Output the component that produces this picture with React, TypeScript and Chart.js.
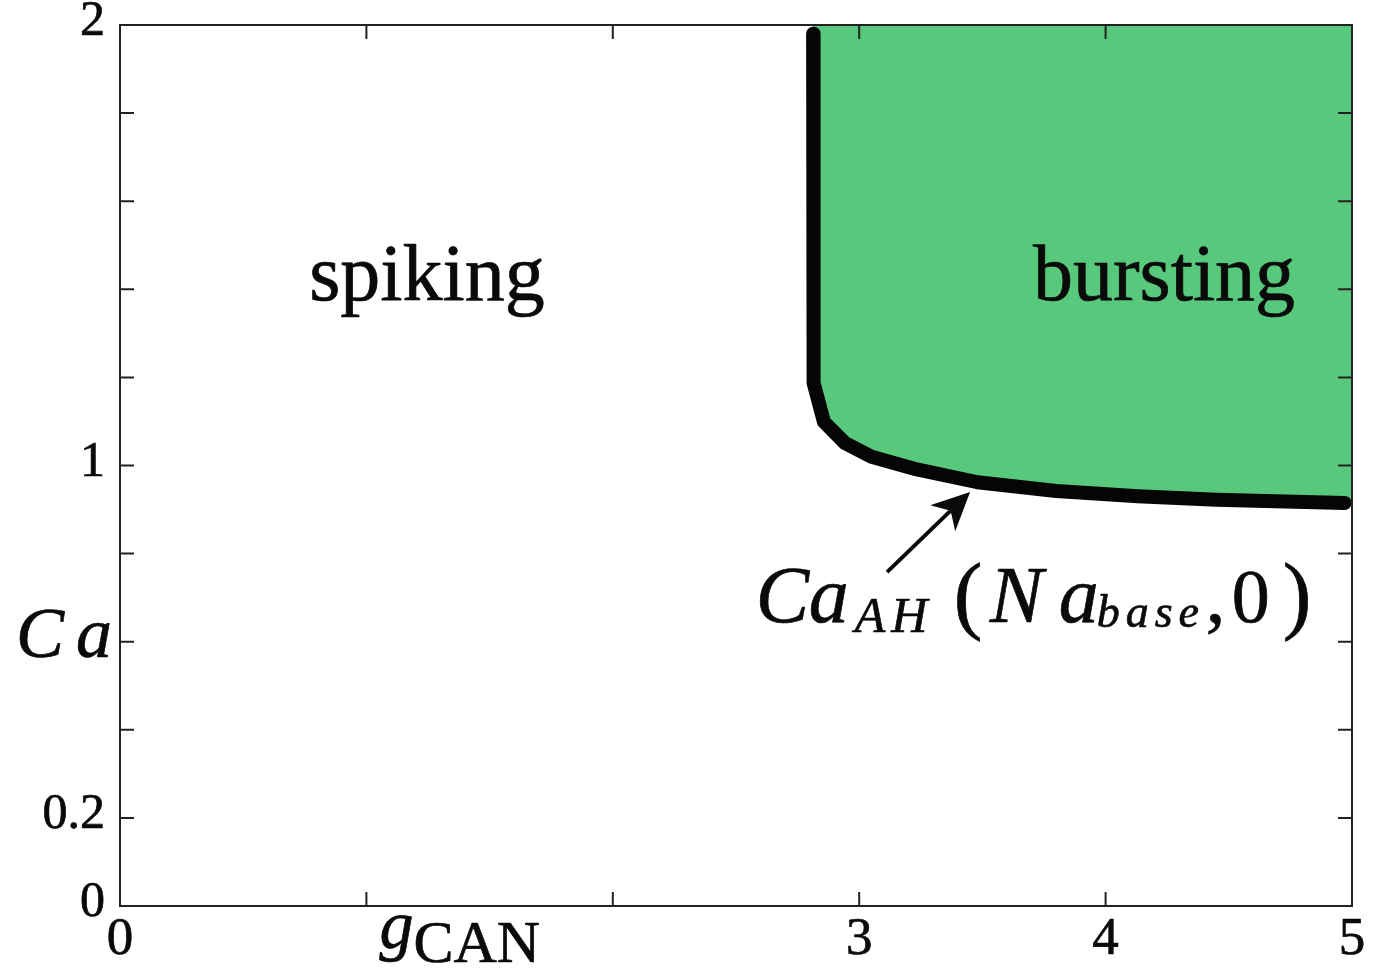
import { useEffect, useRef } from 'react';
import { Chart, registerables } from 'chart.js';

Chart.register(...registerables);

// Axis ticks and their printed labels (blank = tick mark only)
const xTicks = [0, 1, 2, 3, 4, 5];
const xTickLabels = ['0', '', '', '3', '4', '5'];
const yTicks = [0, 0.2, 0.4, 0.6, 0.8, 1, 1.2, 1.4, 1.6, 1.8, 2];
const yTickLabels = ['0', '0.2', '', '', '', '1', '', '', '', '', '2'];

// Axis names, placed at the x = 1 and y = 0.6 tick positions
const xAxisName = { main: 'g', sub: 'CAN', at: 1 };
const yAxisName = { text: 'Ca', at: 0.6 };

// Boundary Ca_AH(Na_base, 0) between spiking and bursting, vs g_CAN
const gCan = [2.813, 2.815, 2.857, 2.942, 3.05, 3.22, 3.48, 3.8, 4.13, 4.45, 4.97];
const caAH = [1.98, 1.187, 1.099, 1.051, 1.02, 0.993, 0.962, 0.942, 0.93, 0.922, 0.915];
const xMax = 5;

// Region names and the curve annotation
const regions = [
  { text: 'spiking', x: 1.246, y: 1.376 },
  { text: 'bursting', x: 4.237, y: 1.376 },
];
const arrowTail = { x: 3.113, y: 0.758 };
const arrowTip = { x: 3.45, y: 0.94 };
const labelAnchor = { x: 2.58, y: 0.645 };

const GREEN = '#58c87c';
const INK = '#0a0a0a';
const FRAME = '#222222';
const SERIF = '"Liberation Serif", "Times New Roman", serif';
const STROKE = 0.7;

type Part = { text: string; size: number; italic?: boolean; dx: number; dy: number; sp?: number };

// Ca_{AH}(Na_{base}, 0)
const curveLabel: Part[] = [
  { text: 'C', size: 80, italic: true, dx: 0, dy: 0 },
  { text: 'a', size: 80, italic: true, dx: 53, dy: 0 },
  { text: 'AH', size: 50, italic: true, dx: 99, dy: 10, sp: 6 },
  { text: '(', size: 86, dx: 198, dy: 1 },
  { text: 'N', size: 80, italic: true, dx: 234, dy: 0 },
  { text: 'a', size: 80, italic: true, dx: 303, dy: 0 },
  { text: 'base', size: 46, italic: true, dx: 341, dy: 5, sp: 6 },
  { text: ',', size: 78, dx: 450, dy: 0 },
  { text: '0', size: 76, dx: 476, dy: 0 },
  { text: ')', size: 86, dx: 527, dy: 1 },
];

function font(size: number, italic = false) {
  return `${italic ? 'italic ' : ''}${size}px ${SERIF}`;
}

function spacedWidth(ctx: CanvasRenderingContext2D, text: string, sp: number) {
  let w = 0;
  for (const ch of text) w += ctx.measureText(ch).width + sp;
  return w - sp;
}

function ink(ctx: CanvasRenderingContext2D, text: string, x: number, y: number) {
  ctx.fillText(text, x, y);
  ctx.strokeText(text, x, y);
}

function drawSpaced(ctx: CanvasRenderingContext2D, text: string, x: number, y: number, sp: number) {
  let cx = x;
  for (const ch of text) {
    ink(ctx, ch, cx, y);
    cx += ctx.measureText(ch).width + sp;
  }
}

const decorations = {
  id: 'decorations',
  afterDatasetsDraw(chart: any) {
    const { ctx, chartArea: a } = chart;
    const xs = chart.scales.x;
    const ys = chart.scales.y;
    ctx.save();

    // top and right sides of the frame
    ctx.strokeStyle = FRAME;
    ctx.lineWidth = 2;
    ctx.lineCap = 'square';
    ctx.beginPath();
    ctx.moveTo(a.left, a.top);
    ctx.lineTo(a.right, a.top);
    ctx.lineTo(a.right, a.bottom);
    ctx.stroke();

    // inward tick marks on all four sides
    const TL = 14;
    ctx.lineCap = 'butt';
    ctx.beginPath();
    xTicks.slice(1, -1).forEach((v) => {
      const px = xs.getPixelForValue(v);
      ctx.moveTo(px, a.bottom);
      ctx.lineTo(px, a.bottom - TL);
      ctx.moveTo(px, a.top);
      ctx.lineTo(px, a.top + TL);
    });
    yTicks.slice(1, -1).forEach((v) => {
      const py = ys.getPixelForValue(v);
      ctx.moveTo(a.left, py);
      ctx.lineTo(a.left + TL, py);
      ctx.moveTo(a.right, py);
      ctx.lineTo(a.right - TL, py);
    });
    ctx.stroke();

    ctx.fillStyle = INK;
    ctx.strokeStyle = INK;
    ctx.lineWidth = STROKE;
    ctx.lineJoin = 'round';
    ctx.textBaseline = 'alphabetic';
    ctx.textAlign = 'left';

    // x axis name g_CAN
    const gx = xs.getPixelForValue(xAxisName.at);
    ctx.font = font(68, true);
    ink(ctx, xAxisName.main, gx + 13, a.bottom + 42);
    ctx.font = font(60);
    drawSpaced(ctx, xAxisName.sub, gx + 47, a.bottom + 56, 0);

    // y axis name Ca
    const cy = ys.getPixelForValue(yAxisName.at);
    ctx.font = font(72, true);
    const w = spacedWidth(ctx, yAxisName.text, 12);
    drawSpaced(ctx, yAxisName.text, a.left - 8 - w, cy + 15, 12);

    // region names
    ctx.textAlign = 'center';
    ctx.font = font(80);
    regions.forEach((r) => {
      ink(ctx, r.text, xs.getPixelForValue(r.x), ys.getPixelForValue(r.y));
    });

    // arrow pointing at the boundary
    const tx = xs.getPixelForValue(arrowTail.x);
    const ty = ys.getPixelForValue(arrowTail.y);
    const hx = xs.getPixelForValue(arrowTip.x);
    const hy = ys.getPixelForValue(arrowTip.y);
    const len = Math.hypot(hx - tx, hy - ty);
    const ux = (hx - tx) / len;
    const uy = (hy - ty) / len;
    const nx = -uy;
    const ny = ux;
    const headLen = 38;
    const headHalf = 18;
    const notch = 27;
    ctx.lineWidth = 4;
    ctx.beginPath();
    ctx.moveTo(tx, ty);
    ctx.lineTo(hx - ux * notch, hy - uy * notch);
    ctx.stroke();
    ctx.beginPath();
    ctx.moveTo(hx, hy);
    ctx.lineTo(hx - ux * headLen + nx * headHalf, hy - uy * headLen + ny * headHalf);
    ctx.lineTo(hx - ux * notch, hy - uy * notch);
    ctx.lineTo(hx - ux * headLen - nx * headHalf, hy - uy * headLen - ny * headHalf);
    ctx.closePath();
    ctx.fill();

    // curve label
    ctx.lineWidth = STROKE;
    ctx.textAlign = 'left';
    const lx = xs.getPixelForValue(labelAnchor.x);
    const ly = ys.getPixelForValue(labelAnchor.y);
    curveLabel.forEach((p) => {
      ctx.font = font(p.size, !!p.italic);
      drawSpaced(ctx, p.text, lx + p.dx, ly + p.dy, p.sp || 0);
    });

    ctx.restore();
  },
};

export default function App() {
  const ref = useRef<HTMLCanvasElement>(null);

  useEffect(() => {
    document.body.style.margin = '0';
    const canvas = ref.current;
    if (!canvas) return;

    const curve = gCan.map((g, i) => ({ x: g, y: caAH[i] }));
    const region = [...curve, { x: xMax, y: caAH[caAH.length - 1] }];

    const chart = new Chart(canvas, {
      type: 'line',
      data: {
        datasets: [
          {
            label: 'bursting',
            data: region,
            fill: 'end',
            backgroundColor: GREEN,
            borderWidth: 0,
            pointRadius: 0,
            tension: 0,
            order: 2,
          },
          {
            label: 'Ca_AH(Na_base, 0)',
            data: curve,
            fill: false,
            borderColor: '#050505',
            borderWidth: 14,
            borderCapStyle: 'round',
            borderJoinStyle: 'round',
            pointRadius: 0,
            tension: 0,
            order: 1,
          },
        ],
      },
      options: {
        responsive: false,
        animation: false,
        devicePixelRatio: 1,
        events: [],
        layout: { padding: { top: 25, right: 22, bottom: 0, left: 0 } },
        plugins: { legend: { display: false }, tooltip: { enabled: false } },
        scales: {
          x: {
            type: 'linear',
            position: 'bottom',
            min: 0,
            max: xMax,
            afterBuildTicks: (s: any) => {
              s.ticks = xTicks.map((v) => ({ value: v }));
            },
            afterFit: (s: any) => {
              s.height = 67;
              s.paddingLeft = 0;
              s.paddingRight = 0;
            },
            grid: { display: true, drawOnChartArea: false, drawTicks: false },
            border: { display: true, color: FRAME, width: 2 },
            ticks: {
              autoSkip: false,
              maxRotation: 0,
              padding: 8,
              color: INK,
              textStrokeColor: INK,
              textStrokeWidth: STROKE,
              font: { family: SERIF, size: 53, lineHeight: 1 },
              callback: (_v: any, i: number) => xTickLabels[i],
            },
          },
          y: {
            type: 'linear',
            position: 'left',
            min: 0,
            max: 2,
            afterBuildTicks: (s: any) => {
              s.ticks = yTicks.map((v) => ({ value: v }));
            },
            afterFit: (s: any) => {
              s.width = 120;
              s.paddingTop = 0;
              s.paddingBottom = 0;
            },
            grid: { display: true, drawOnChartArea: false, drawTicks: false },
            border: { display: true, color: FRAME, width: 2 },
            ticks: {
              autoSkip: false,
              padding: 15,
              labelOffset: -3,
              color: INK,
              textStrokeColor: INK,
              textStrokeWidth: STROKE,
              font: { family: SERIF, size: 50, lineHeight: 1 },
              callback: (_v: any, i: number) => yTickLabels[i],
            },
          },
        },
      },
      plugins: [decorations],
    } as any);

    return () => chart.destroy();
  }, []);

  return (
    <div style={{ width: 1374, height: 973 }}>
      <canvas ref={ref} width={1374} height={973} />
    </div>
  );
}
